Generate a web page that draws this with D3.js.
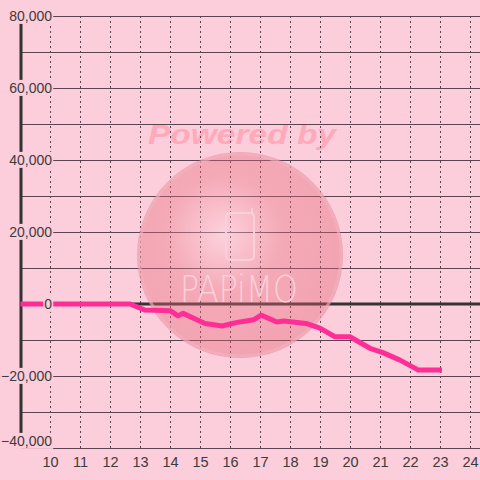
<!DOCTYPE html>
<html>
<head>
<meta charset="utf-8">
<script src="https://cdn.jsdelivr.net/npm/d3@7"></script>
<style>
  html, body { margin: 0; padding: 0; background: #fccdda; }
  svg { display: block; }
</style>
</head>
<body>
<div id="chart"></div>
<script>
// data (hour of day, value)
const hours = [9, 12.65, 13.15, 14.0, 14.25, 14.42, 15.15, 15.72, 16.22, 16.77, 17.02, 17.55, 17.78, 18.52, 18.98, 19.48, 19.98, 20.65, 21.08, 21.65, 22.25, 23.05];
const values = [0, 0, -1700, -1900, -3300, -2600, -5400, -6100, -5100, -4400, -3100, -5000, -4700, -5400, -6700, -9100, -9100, -12300, -13500, -15600, -18300, -18300];
const yLabels = [-40000, -20000, 0, 20000, 40000, 60000, 80000];
const yGrid = d3.range(-40000, 80001, 10000);
const xLabels = d3.range(10, 25);

const W = 480, H = 480,
  bg = "#fccdda",
  gridColor = "#5c4352",
  textColor = "#3c3c3c";

const svg = d3.select("#chart").append("svg").attr("width", W).attr("height", H);
svg.append("rect").attr("width", W).attr("height", H).attr("fill", bg);

const x = d3.scaleLinear().domain([9, 24]).range([20.5, 470.5]);
const y = d3.scaleLinear().domain([-40000, 80000]).range([448, 16]);

// "Powered by" sits under the grid
svg.append("text").attr("x", 148).attr("y", 144)
  .attr("textLength", 188).attr("lengthAdjust", "spacingAndGlyphs")
  .style("font-family", "Liberation Sans, Arial, sans-serif")
  .style("font-weight", "bold").style("font-style", "italic")
  .attr("font-size", 28).attr("fill", "#ffa9bb").text("Powered by");

// horizontal grid
svg.append("g").selectAll("line").data(yGrid).enter().append("line")
  .attr("x1", 22).attr("x2", W)
  .attr("y1", (d) => Math.round(y(d)) + 0.5).attr("y2", (d) => Math.round(y(d)) + 0.5)
  .attr("stroke", gridColor).attr("stroke-width", 1.2);

// vertical dashed grid
svg.append("g").selectAll("line").data(xLabels).enter().append("line")
  .attr("x1", (d) => x(d)).attr("x2", (d) => x(d))
  .attr("y1", y(80000)).attr("y2", y(-40000))
  .attr("stroke", gridColor).attr("stroke-width", 1).attr("stroke-dasharray", "2,3");

// zero line
svg.append("line").attr("x1", 22).attr("x2", W).attr("y1", y(0)).attr("y2", y(0))
  .attr("stroke", "#333").attr("stroke-width", 3);

// y axis bar
svg.append("line").attr("x1", 21).attr("x2", 21).attr("y1", y(80000)).attr("y2", y(-40000))
  .attr("stroke", "#333").attr("stroke-width", 3);

// watermark ball over the grid
const defs = svg.append("defs");
const grad = defs.append("radialGradient").attr("id", "ball").attr("cx", "42%").attr("cy", "40%").attr("r", "62%");
grad.append("stop").attr("offset", "0%").attr("stop-color", "#fdd8df");
grad.append("stop").attr("offset", "45%").attr("stop-color", "#e9707e");
grad.append("stop").attr("offset", "100%").attr("stop-color", "#e05d70");

const mark = svg.append("g");
mark.append("circle").attr("cx", 240).attr("cy", 255).attr("r", 103)
  .attr("fill", "url(#ball)").attr("opacity", 0.38);
mark.append("circle").attr("cx", 240).attr("cy", 255).attr("r", 101)
  .attr("fill", "none").attr("stroke", "#f2b3c0").attr("stroke-width", 3).attr("opacity", 0.6);
mark.append("rect").attr("x", 226).attr("y", 213).attr("width", 28).attr("height", 47).attr("rx", 4)
  .attr("fill", "none").attr("stroke", "#fbd0da").attr("stroke-width", 2);
mark.append("line").attr("x1", 252).attr("y1", 208).attr("x2", 252).attr("y2", 214)
  .attr("stroke", "#fbd0da").attr("stroke-width", 2);
mark.append("text").attr("x", 180).attr("y", 302)
  .attr("textLength", 118).attr("lengthAdjust", "spacingAndGlyphs")
  .style("font-family", "DejaVu Sans, sans-serif").style("font-weight", 200)
  .attr("font-size", 37).attr("fill", "#fbd0da").text("PAPiMO");

// data line
const line = d3.line().x((d) => x(d[0])).y((d) => y(d[1]));
svg.append("path").datum(d3.zip(hours, values)).attr("d", line)
  .attr("fill", "none").attr("stroke", "#ff2e97").attr("stroke-width", 5)
  .attr("stroke-linejoin", "round");

// y labels with background
const fmt = d3.format(",");
const yl = svg.append("g").selectAll("g").data(yLabels).enter().append("g")
  .attr("transform", (d) => `translate(52,${d === -40000 ? y(d) - 7 : y(d)})`);
yl.append("text")
  .attr("text-anchor", "end").attr("dy", "0.35em")
  .style("font-family", "Liberation Sans, Arial, sans-serif")
  .attr("font-size", 14).attr("fill", textColor)
  .text((d) => fmt(d))
  .each(function () {
    const b = this.getBBox();
    d3.select(this.parentNode).insert("rect", "text")
      .attr("x", b.x - 1).attr("y", b.y).attr("width", b.width + 2).attr("height", b.height)
      .attr("fill", bg);
  });

// x labels
svg.append("g").selectAll("text").data(xLabels).enter().append("text")
  .attr("x", (d) => x(d)).attr("y", 467)
  .attr("text-anchor", "middle")
  .style("font-family", "Liberation Sans, Arial, sans-serif")
  .attr("font-size", 14.5).attr("fill", textColor)
  .text((d) => d);
</script>
</body>
</html>
